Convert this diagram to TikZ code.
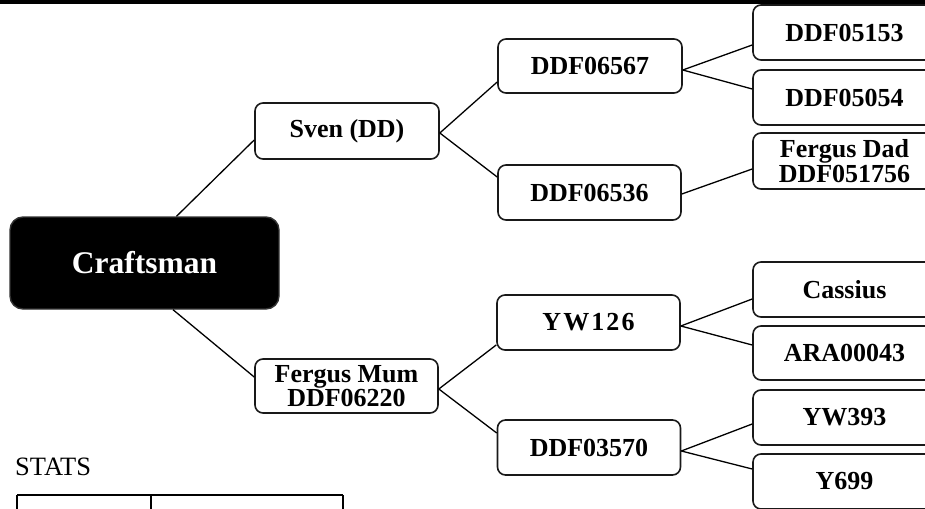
\documentclass[tikz,border=0pt]{standalone}
\usepackage{fontspec}
\setmainfont{Liberation Serif}
\newcommand\labfont{\fontsize{26}{24.5}\selectfont\bfseries}
\newcommand\bigfont{\fontsize{31.5}{31}\selectfont\bfseries}
\begin{document}
\begin{tikzpicture}[x=1pt,y=-1pt,
  box/.style={draw=black!90, rounded corners=8pt, line width=1.6pt, fill=white,
    minimum width=183pt, minimum height=55pt, inner sep=0pt,
    font=\labfont, align=center},
  rootbox/.style={draw=black!80, rounded corners=13pt, line width=1.4pt, fill=black,
    minimum width=269pt, minimum height=92pt, inner sep=0pt,
    font=\bigfont, text=white},
  link/.style={line width=1.3pt}]
\useasboundingbox (0,0) rectangle (925,508);
\clip (0,0) rectangle (925,508);
\fill[black] (0,0) rectangle (925,4);

\node[rootbox] (craft) at (144.5,263) {Craftsman};
\node[box, minimum width=184pt, minimum height=56pt] (sven) at (347,131) {Sven (DD)};
\node[box, minimum width=184pt, minimum height=54pt] (dd67) at (590,66) {DDF06567};
\node[box] (dd36) at (589.5,192.5) {DDF06536};
\node[box] (d53) at (844.5,32.5) {DDF05153};
\node[box] (d54) at (844.5,97.5) {DDF05054};
\node[box, minimum height=56pt] (fdad) at (844.5,161) {Fergus Dad\\DDF051756};
\node[box, minimum height=54pt] (mum) at (346.5,386) {Fergus Mum\\DDF06220};
\node[box] (yw126) at (588.5,322.5) {\addfontfeature{LetterSpace=8}YW126};
\node[box] (d70) at (589,447.5) {DDF03570};
\node[box] (cas) at (844.5,289.5) {Cassius};
\node[box, minimum height=54pt] (ara) at (844.5,353) {ARA00043};
\node[box] (yw393) at (844.5,417.5) {YW393};
\node[box] (y699) at (844.5,481.5) {Y699};

\draw[link] ([xshift=32pt]craft.north) -- ([yshift=-9pt]sven.west);
\draw[link] ([xshift=28.5pt]craft.south) -- ([yshift=9pt]mum.west);
\draw[link] ([yshift=-2pt]sven.east) -- ([yshift=-16pt]dd67.west);
\draw[link] ([yshift=-2pt]sven.east) -- ([yshift=15.5pt]dd36.west);
\draw[link] ([yshift=-4pt]dd67.east) -- ([yshift=-12.5pt]d53.west);
\draw[link] ([yshift=-4pt]dd67.east) -- ([yshift=8.5pt]d54.west);
\draw[link] ([yshift=-1.5pt]dd36.east) -- ([yshift=-8pt]fdad.west);
\draw[link] ([yshift=-3pt]mum.east) -- ([yshift=-22.5pt]yw126.west);
\draw[link] ([yshift=-3pt]mum.east) -- ([yshift=14.5pt]d70.west);
\draw[link] ([yshift=-3.5pt]yw126.east) -- ([yshift=-9.5pt]cas.west);
\draw[link] ([yshift=-3.5pt]yw126.east) -- ([yshift=8pt]ara.west);
\draw[link] ([yshift=-3.5pt]d70.east) -- ([yshift=-6.5pt]yw393.west);
\draw[link] ([yshift=-3.5pt]d70.east) -- ([yshift=12.5pt]y699.west);

\node[anchor=base west, inner sep=0pt, font=\fontsize{26.5}{26}\selectfont] (stats) at (15,475) {STATS};
\coordinate (t1) at (17,495);
\coordinate (t2) at (151,495);
\coordinate (t3) at (343,495);
\draw[line width=2pt] (t1) -- (t3);
\draw[line width=2pt] (t1) -- ++(0,20);
\draw[line width=2pt] (t2) -- ++(0,20);
\draw[line width=2pt] (t3) -- ++(0,20);
\end{tikzpicture}
\end{document}
